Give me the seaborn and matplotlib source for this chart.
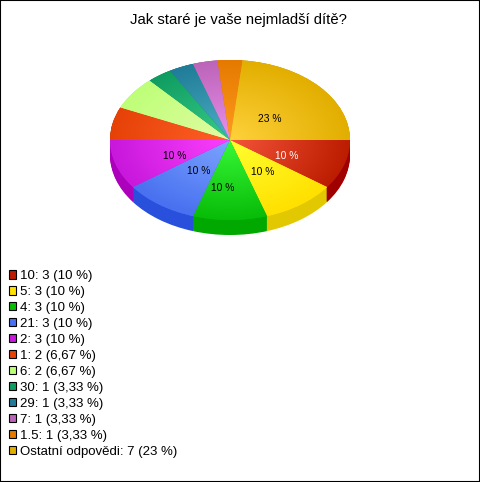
import numpy as np
import matplotlib
matplotlib.use("Agg")
import matplotlib.pyplot as plt
from matplotlib.patches import Patch, Rectangle
import seaborn as sns

# Data
TITLE = "Jak staré je vaše nejmladší dítě?"
answers = ["10", "5", "4", "21", "2", "1", "6", "30", "29", "7", "1.5", "Ostatní odpovědi"]
counts = [3, 3, 3, 3, 3, 2, 2, 1, 1, 1, 1, 7]
percents = ["10", "10", "10", "10", "10", "6,67", "6,67", "3,33", "3,33", "3,33", "3,33", "23"]
slice_labels = ["10 %", "10 %", "10 %", "10 %", "10 %", "", "", "", "", "", "", "23 %"]

# Colours
inner_colors = ["#F4553A", "#FFFF30", "#38F838", "#7CA4FF", "#FC40FC", "#FF6028",
                "#E2FBA4", "#38CC88", "#4CB0C4", "#E890EC", "#FF9A20", "#FFD23C"]
outer_colors = ["#BC1C00", "#FFE000", "#08BC08", "#4870F0", "#C818DC", "#E64208",
                "#BEFF78", "#0F9C60", "#207C98", "#BC64B8", "#E67A00", "#E2AE00"]
side_colors = ["#A00000", "#E2C800", "#00A800", "#2850DC", "#AC00BC", "#C03800",
               "#9CD060", "#0C8050", "#186880", "#A05098", "#C06400", "#C09400"]

# small pixel shifts of the slice labels (right, down)
label_nudges = [(0, 4), (-3, 0), (-7, 8), (4, -1), (2, 4), (0, 0), (0, 0), (0, 0), (0, 0), (0, 0), (0, 0), (-5, 6)]

WIDTH, HEIGHT = 480, 482
PIE_LEFT, PIE_TOP, RX, RY, DEPTH = 110, 60, 120, 80, 15

sns.set_theme(style="white")
plt.rcParams["font.family"] = ["Liberation Sans", "DejaVu Sans"]

fig = plt.figure(figsize=(WIDTH / 100, HEIGHT / 100), dpi=100, facecolor="white")
fig.add_artist(Rectangle((0, 0), 1, 1, transform=fig.transFigure, facecolor="none",
                         edgecolor="black", linewidth=1.5))

ax = fig.add_axes([PIE_LEFT / WIDTH, 1 - (PIE_TOP + 2 * RY + DEPTH) / HEIGHT,
                   2 * RX / WIDTH, (2 * RY + DEPTH) / HEIGHT])

flat = dict(linewidth=0, edgecolor="none")

# side of the disc, stacked copies of the pie going downwards
depth_units = DEPTH / RY
for off in np.linspace(depth_units, 0, DEPTH + 1):
    ax.pie(counts, colors=side_colors, center=(0, -off), radius=1, counterclock=False, startangle=0,
           wedgeprops=flat)

# top surface
wedges, texts = ax.pie(counts, colors=outer_colors, radius=1, counterclock=False, startangle=0,
                       labels=slice_labels, labeldistance=0.5, wedgeprops=flat,
                       textprops=dict(fontsize=7.4, color="black", zorder=6))
for text, (dx, dy) in zip(texts, label_nudges):
    x, y = text.get_position()
    text.set_position((x + dx / RX, y - dy / RY))
    text.set_ha("center")
    text.set_va("center")
texts[0].set_color("white")

xx, yy = np.meshgrid(np.linspace(-1, 1, 300), np.linspace(-1, 1, 300))
dist = np.hypot(xx, yy)
for wedge, inner, outer in zip(wedges, inner_colors, outer_colors):
    cmap = sns.blend_palette([inner, outer], as_cmap=True)
    im = ax.imshow(dist, extent=(-1, 1, -1, 1), cmap=cmap, vmin=0, vmax=1, origin="lower",
                   aspect="auto", zorder=2)
    im.set_clip_path(wedge)

ax.set_aspect("auto")
ax.set_xlim(-1, 1)
ax.set_ylim(-1 - depth_units, 1)
ax.axis("off")

fig.text(238 / WIDTH, 1 - 20 / HEIGHT, TITLE, ha="center", va="center", fontsize=10.7, color="black")

handles = [Patch(facecolor=c, edgecolor="black", linewidth=0.8) for c in outer_colors]
legend_labels = [f"{a}: {c} ({p} %)" for a, c, p in zip(answers, counts, percents)]
fig.legend(handles, legend_labels, loc="upper left", bbox_to_anchor=(8.5 / WIDTH, 1 - 270 / HEIGHT),
           frameon=False, fontsize=9.55, borderpad=0, borderaxespad=0, handlelength=0.6,
           handleheight=0.6, handletextpad=0.25, labelspacing=0.30, labelcolor="black")

fig.savefig("out.png", dpi=100)
